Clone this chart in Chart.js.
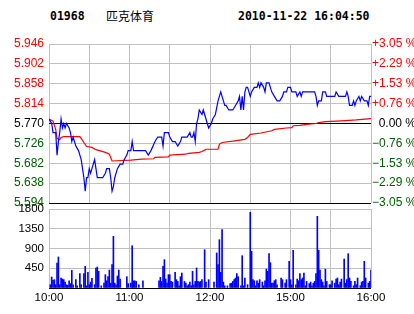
<!DOCTYPE html>
<html>
<head>
<meta charset="utf-8">
<script src="https://cdn.jsdelivr.net/npm/chart.js@4/dist/chart.umd.min.js"></script>
<style>
  body { margin: 0; background: #fff; }
  #wrap { position: relative; width: 414px; height: 314px; overflow: hidden; }
  canvas { position: absolute; left: 0; top: 0; }
  .hd { position: absolute; top: 8px; font: bold 11.5px "DejaVu Sans Mono", monospace; color: #000; line-height: 16px; }
  #name { font: 12px "Noto Sans CJK SC", sans-serif; line-height: 16px; }
</style>
</head>
<body>
<div id="wrap">
  <div class="hd" style="left:50px">01968</div>
  <div class="hd" id="name" style="left:106px">匹克体育</div>
  <div class="hd" style="left:238px">2010-11-22 16:04:50</div>
  <canvas id="priceChart" width="414" height="314"></canvas>
  <canvas id="volChart" width="414" height="314"></canvas>
</div>
<script>
// base (previous close) and axis ticks
const basePrice = 5.770;
const priceTicks = [5.594, 5.638, 5.682, 5.726, 5.770, 5.814, 5.858, 5.902, 5.946];
const volTicks = [0, 450, 900, 1350, 1800];
const gridMinutes = [0, 30, 60, 90, 120, 150, 180, 210, 240];
const timeLabels = { 0: "10:00", 60: "11:00", 120: "12:00", 180: "15:00", 240: "16:00" };

// price line (minutes from 10:00, trading time only)
const priceMin = [0, 2, 3, 5, 6, 7, 8, 9, 10, 11, 12, 13, 15, 16, 17, 18, 19, 20, 22, 23, 24, 25, 26, 27, 28, 29, 30, 31, 32, 33, 34, 35, 36, 40, 42, 43, 45, 46, 47, 48, 49, 50, 51, 53, 55, 56, 58, 59, 61, 62, 63, 70, 72, 74, 76, 79, 81, 84, 85, 86, 89, 90, 92, 94, 96, 98, 99, 103, 105, 106, 107, 108, 109, 110, 111, 112, 114, 115, 116, 118, 119, 121, 122, 124, 126, 128, 129, 131, 132, 134, 137, 139, 141, 142, 143, 144, 145, 146, 147, 148, 150, 151, 153, 155, 156, 157, 158, 160, 161, 162, 164, 165, 166, 168, 170, 172, 174, 175, 177, 178, 180, 181, 184, 185, 187, 188, 189, 198, 199, 200, 201, 203, 204, 206, 207, 213, 214, 216, 221, 222, 223, 224, 226, 227, 228, 229, 231, 232, 233, 235, 237, 238, 239, 240];
const priceVal = [5.78, 5.77, 5.75, 5.75, 5.70, 5.73, 5.75, 5.78, 5.76, 5.77, 5.76, 5.77, 5.76, 5.75, 5.73, 5.74, 5.73, 5.72, 5.71, 5.70, 5.69, 5.67, 5.65, 5.62, 5.65, 5.65, 5.67, 5.66, 5.67, 5.68, 5.69, 5.67, 5.65, 5.65, 5.66, 5.67, 5.67, 5.65, 5.62, 5.63, 5.65, 5.66, 5.67, 5.68, 5.68, 5.69, 5.70, 5.71, 5.71, 5.73, 5.71, 5.71, 5.71, 5.70, 5.71, 5.73, 5.74, 5.74, 5.72, 5.75, 5.75, 5.74, 5.73, 5.73, 5.72, 5.73, 5.74, 5.74, 5.75, 5.74, 5.74, 5.75, 5.73, 5.77, 5.78, 5.80, 5.79, 5.80, 5.79, 5.77, 5.76, 5.77, 5.78, 5.79, 5.82, 5.84, 5.83, 5.81, 5.81, 5.80, 5.80, 5.81, 5.82, 5.83, 5.80, 5.83, 5.80, 5.84, 5.85, 5.85, 5.83, 5.84, 5.85, 5.85, 5.86, 5.85, 5.86, 5.85, 5.84, 5.86, 5.86, 5.85, 5.84, 5.83, 5.82, 5.82, 5.83, 5.84, 5.84, 5.85, 5.85, 5.84, 5.84, 5.83, 5.84, 5.83, 5.84, 5.84, 5.83, 5.81, 5.82, 5.82, 5.84, 5.84, 5.83, 5.83, 5.84, 5.83, 5.83, 5.84, 5.83, 5.81, 5.81, 5.82, 5.81, 5.82, 5.83, 5.82, 5.83, 5.82, 5.82, 5.81, 5.83, 5.83];

// average price line
const avgMin = [0, 3, 5, 6, 8, 9, 11, 23, 24, 26, 28, 32, 35, 42, 45, 47, 61, 69, 78, 79, 89, 90, 102, 104, 112, 114, 116, 117, 126, 127, 129, 137, 146, 148, 150, 158, 166, 168, 177, 181, 182, 187, 192, 199, 201, 206, 218, 229, 240];
const avgVal = [5.780, 5.775, 5.757, 5.737, 5.734, 5.739, 5.741, 5.741, 5.737, 5.728, 5.719, 5.717, 5.712, 5.706, 5.702, 5.687, 5.689, 5.691, 5.692, 5.695, 5.696, 5.700, 5.702, 5.704, 5.706, 5.708, 5.711, 5.713, 5.713, 5.724, 5.728, 5.731, 5.735, 5.739, 5.746, 5.749, 5.754, 5.757, 5.760, 5.761, 5.765, 5.766, 5.768, 5.770, 5.772, 5.774, 5.776, 5.778, 5.781];

// volume per minute
const volMin = [1, 2, 3, 4, 5, 6, 7, 8, 9, 10, 11, 12, 13, 14, 15, 16, 17, 18, 20, 21, 23, 24, 26, 27, 28, 29, 30, 31, 32, 34, 35, 36, 37, 39, 41, 42, 43, 44, 45, 46, 47, 48, 49, 50, 51, 52, 53, 58, 59, 61, 62, 63, 64, 65, 67, 70, 82, 83, 84, 85, 86, 87, 88, 89, 90, 91, 92, 94, 95, 96, 97, 98, 99, 101, 102, 103, 104, 105, 106, 107, 108, 109, 110, 111, 112, 113, 114, 116, 117, 119, 123, 125, 126, 127, 128, 129, 130, 131, 133, 135, 136, 137, 138, 139, 140, 141, 143, 144, 145, 146, 148, 150, 151, 152, 153, 154, 155, 156, 157, 159, 160, 161, 162, 163, 164, 165, 166, 167, 168, 169, 170, 173, 174, 176, 177, 179, 180, 181, 182, 184, 185, 186, 187, 188, 189, 190, 191, 192, 194, 195, 196, 197, 198, 199, 200, 201, 202, 203, 204, 205, 206, 207, 209, 210, 211, 213, 214, 215, 216, 217, 218, 220, 221, 222, 223, 224, 225, 227, 228, 229, 230, 232, 233, 234, 235, 236, 238, 239, 240];
const volVal = [75, 250, 173, 190, 75, 570, 707, 75, 228, 205, 190, 135, 75, 60, 165, 100, 400, 75, 190, 50, 326, 75, 326, 494, 50, 357, 75, 135, 220, 75, 456, 477, 380, 50, 110, 304, 165, 258, 410, 110, 531, 1177, 110, 75, 273, 410, 205, 258, 100, 110, 964, 165, 165, 150, 75, 166, 166, 242, 150, 494, 645, 205, 110, 304, 304, 150, 135, 357, 190, 150, 50, 258, 341, 150, 110, 50, 75, 135, 50, 380, 75, 150, 456, 150, 135, 150, 190, 873, 135, 190, 135, 798, 531, 1101, 357, 1329, 135, 50, 50, 100, 110, 150, 190, 228, 326, 258, 50, 736, 50, 228, 75, 1724, 835, 190, 166, 50, 166, 110, 190, 135, 50, 166, 430, 380, 782, 577, 110, 110, 166, 190, 75, 228, 190, 110, 190, 608, 190, 75, 858, 75, 205, 166, 326, 190, 228, 341, 50, 150, 100, 135, 50, 110, 150, 326, 1633, 858, 410, 190, 135, 50, 430, 150, 75, 75, 166, 110, 205, 228, 75, 135, 205, 661, 110, 190, 782, 228, 150, 50, 150, 75, 228, 50, 135, 150, 608, 228, 110, 150, 410];

const RED = "#ff0000";
const GREEN = "#006000";
const GRID = "#c0c0c0";
const labelFont = { family: "'Liberation Sans', Arial, sans-serif", size: 12 };

function sideColor(v) {
  if (Math.abs(v - basePrice) < 1e-6) return "#000";
  return v > basePrice ? RED : GREEN;
}

function pctLabel(v) {
  const p = (v - basePrice) / basePrice * 100;
  if (Math.abs(p) < 1e-6) return "  0.00 %";
  return (p > 0 ? "+" : "\u2212") + Math.abs(p).toFixed(2) + " %";
}

const priceTickObjs = (scale) => { scale.ticks = priceTicks.map(v => ({ value: v })); };
const minuteTickObjs = (scale) => { scale.ticks = gridMinutes.map(v => ({ value: v })); };

new Chart(document.getElementById("priceChart"), {
  type: "line",
  data: {
    datasets: [
      {
        data: priceMin.map((m, i) => ({ x: m, y: priceVal[i] })),
        borderColor: "#0000ff",
        borderWidth: 1.2,
        pointRadius: 0,
        tension: 0
      },
      {
        data: avgMin.map((m, i) => ({ x: m, y: avgVal[i] })),
        borderColor: RED,
        borderWidth: 1.2,
        pointRadius: 0,
        tension: 0
      }
    ]
  },
  options: {
    responsive: false,
    animation: false,
    devicePixelRatio: 1,
    layout: { padding: { top: 44, bottom: 111, left: 0, right: 0 } },
    plugins: { legend: { display: false }, tooltip: { enabled: false } },
    scales: {
      x: {
        type: "linear",
        min: 0,
        max: 240,
        afterBuildTicks: minuteTickObjs,
        afterFit: (s) => { s.height = 0; },
        ticks: { display: false },
        grid: { color: GRID, drawTicks: false },
        border: { display: false }
      },
      y: {
        position: "left",
        min: priceTicks[0],
        max: priceTicks[priceTicks.length - 1],
        afterBuildTicks: priceTickObjs,
        afterFit: (s) => { s.width = 49; },
        ticks: {
          padding: 5,
          font: labelFont,
          color: (ctx) => sideColor(ctx.tick.value),
          callback: (v) => v.toFixed(3)
        },
        grid: {
          drawTicks: false,
          color: (ctx) => (ctx.tick && (Math.abs(ctx.tick.value - basePrice) < 1e-6 || ctx.index === 0)) ? "#000" : GRID
        },
        border: { display: false }
      },
      y2: {
        position: "right",
        min: priceTicks[0],
        max: priceTicks[priceTicks.length - 1],
        afterBuildTicks: priceTickObjs,
        afterFit: (s) => { s.width = 43; },
        ticks: {
          padding: 1,
          font: labelFont,
          color: (ctx) => sideColor(ctx.tick.value),
          callback: (v) => pctLabel(v)
        },
        grid: { drawOnChartArea: false, drawTicks: false },
        border: { display: false }
      }
    }
  }
});

new Chart(document.getElementById("volChart"), {
  type: "bar",
  data: {
    datasets: [{
      data: volMin.map((m, i) => ({ x: m, y: volVal[i] })),
      backgroundColor: "#0000ff",
      barThickness: 1
    }]
  },
  options: {
    responsive: false,
    animation: false,
    devicePixelRatio: 1,
    layout: { padding: { top: 209, bottom: 0, left: 0, right: 43 } },
    plugins: { legend: { display: false }, tooltip: { enabled: false } },
    scales: {
      x: {
        type: "linear",
        min: 0,
        max: 240,
        offset: false,
        afterBuildTicks: minuteTickObjs,
        afterFit: (s) => { s.height = 26; },
        ticks: {
          autoSkip: false,
          maxRotation: 0,
          padding: 3,
          color: "#000",
          font: { family: labelFont.family, size: 11.5 },
          callback: (v) => timeLabels[v] || ""
        },
        grid: { color: GRID, drawTicks: false, offset: false },
        border: { display: false }
      },
      y: {
        min: 0,
        max: 1800,
        afterBuildTicks: (s) => { s.ticks = volTicks.map(v => ({ value: v })); },
        afterFit: (s) => { s.width = 49; },
        ticks: {
          padding: 5,
          color: "#000",
          font: { family: labelFont.family, size: 11.5 },
          callback: (v) => v === 0 ? "" : String(v)
        },
        grid: {
          drawTicks: false,
          color: (ctx) => (ctx.tick && ctx.tick.value === 0) ? "#000" : GRID
        },
        border: { display: false }
      }
    }
  }
});
</script>
</body>
</html>
